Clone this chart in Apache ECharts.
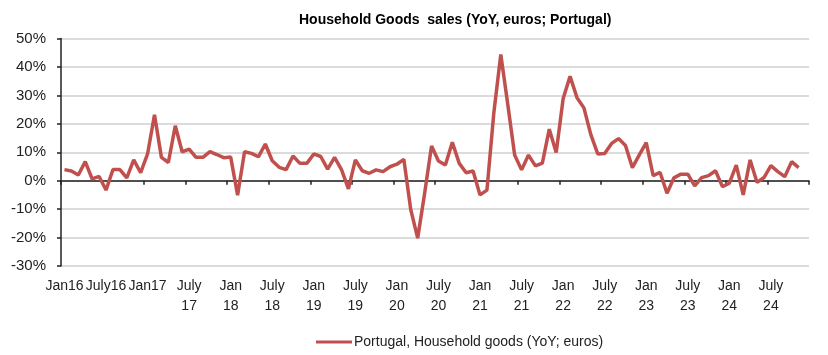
<!DOCTYPE html>
<html>
<head>
<meta charset="utf-8">
<script src="https://cdn.jsdelivr.net/npm/echarts@6/dist/echarts.min.js"></script>
<style>
html,body{margin:0;padding:0;background:#fff;}
#chart{width:828px;height:355px;}
</style>
</head>
<body>
<div id="chart"></div>
<script>
// Monthly categories Jan 2016 - Dec 2024
const monthNames = ['Jan','Feb','Mar','Apr','May','Jun','Jul','Aug','Sep','Oct','Nov','Dec'];
const years = [16,17,18,19,20,21,22,23,24];
const categories = [];
years.forEach(y => monthNames.forEach(m => categories.push(m + y)));

// Tick labels, one every 6 months
const tickLabels = ['Jan16','July16','Jan17','July\n17','Jan\n18','July\n18','Jan\n19','July\n19','Jan\n20',
  'July\n20','Jan\n21','July\n21','Jan\n22','July\n22','Jan\n23','July\n23','Jan\n24','July\n24'];

// Portugal, Household goods (YoY; euros), %
const householdGoods = [
  3.9, 3.4, 2.0, 6.7, 0.6, 1.5, -3.3, 3.9, 3.9, 1.0, 7.3, 2.8,
  9.4, 23.2, 8.2, 6.4, 19.3, 10.1, 11.1, 8.2, 8.2, 10.2, 9.2, 8.1,
  8.3, -5.1, 10.2, 9.6, 8.4, 12.9, 7.0, 4.7, 3.9, 8.7, 6.1, 6.1,
  9.4, 8.5, 4.1, 8.2, 3.9, -2.9, 7.3, 3.5, 2.6, 3.8, 3.2, 4.9,
  5.8, 7.5, -10.2, -20.2, -4.5, 12.2, 6.9, 5.5, 13.5, 6.1, 2.8, 3.4,
  -5.0, -3.3, 24.0, 44.4, 27.0, 9.0, 3.8, 9.0, 5.2, 6.2, 18.1, 9.9,
  28.8, 36.7, 29.2, 25.6, 16.2, 9.4, 9.6, 13.1, 14.8, 12.4, 4.6, 9.1,
  13.4, 1.8, 2.9, -4.4, 1.0, 2.3, 2.3, -1.8, 1.1, 1.8, 3.5, -2.1,
  -0.9, 5.5, -5.0, 7.3, -0.6, 1.1, 5.3, 3.2, 1.4, 6.7, 4.6
];

const seriesName = 'Portugal, Household goods (YoY; euros)';
const titleText = 'Household Goods  sales (YoY, euros; Portugal)';

const chart = echarts.init(document.getElementById('chart'));
const font = 'Liberation Sans, Arial, sans-serif';
chart.setOption({
  animation: false,
  backgroundColor: '#fff',
  title: {
    text: titleText,
    left: 294, top: 8,
    textStyle: {fontFamily: font, fontSize: 14, fontWeight: 'bold', color: '#000'}
  },
  legend: {
    data: [seriesName],
    left: 311, top: 330,
    icon: 'rect', itemWidth: 36, itemHeight: 3, itemGap: 10,
    textStyle: {fontFamily: font, fontSize: 14, color: '#222', padding: [0,0,0,-3]}
  },
  grid: {left: 61, right: 19, top: 38.5, bottom: 89, containLabel: false},
  xAxis: [{
    type: 'category',
    data: categories,
    boundaryGap: true,
    axisLine: {show: false, onZero: false},
    axisTick: {show: false},
    axisLabel: {
      interval: 5, margin: 10, fontFamily: font, fontSize: 14, color: '#222', lineHeight: 20,
      formatter: (v, i) => tickLabels[Math.round(i / 6)]
    },
    splitLine: {show: false}
  }, {
    type: 'category',
    data: categories,
    boundaryGap: true,
    position: 'bottom',
    axisLine: {show: true, onZero: true, lineStyle: {color: '#222', width: 1.5}},
    axisTick: {show: true, interval: 5, length: 4, lineStyle: {color: '#222', width: 1.5}},
    axisLabel: {show: false},
    splitLine: {show: false}
  }],
  yAxis: {
    type: 'value', min: -30, max: 50, interval: 10,
    axisLine: {show: true, lineStyle: {color: '#222', width: 1.5}},
    axisTick: {show: true, length: 4, lineStyle: {color: '#222', width: 1.5}},
    axisLabel: {formatter: '{value}%', fontFamily: font, fontSize: 15, color: '#222', margin: 15},
    splitLine: {show: true, lineStyle: {color: '#cfcfcf', width: 1.5}}
  },
  series: [{
    name: seriesName,
    type: 'line',
    xAxisIndex: 0,
    data: householdGoods,
    symbol: 'none',
    lineStyle: {color: '#c0504d', width: 3.5},
    itemStyle: {color: '#c0504d'}
  }]
});
</script>
</body>
</html>
